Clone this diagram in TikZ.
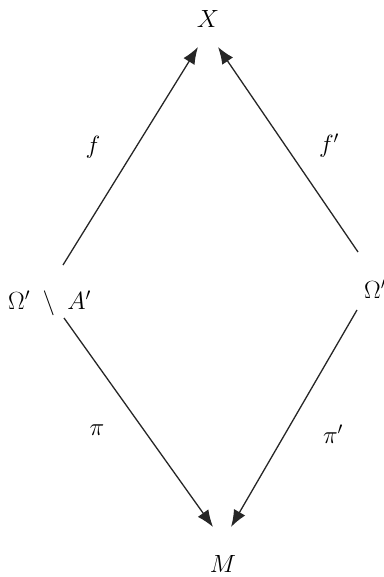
\documentclass[tikz,border=0pt]{standalone}
\usepackage{amssymb}
\usetikzlibrary{arrows.meta}
\begin{document}
\begin{tikzpicture}[x=1pt,y=-1pt,
  lbl/.style={font=\fontsize{24}{28}\selectfont, inner sep=0pt},
  arr/.style={line width=1.3pt, draw=black!85, -{Latex[length=17pt,width=13pt]}}]
\useasboundingbox (0,0) rectangle (383,577);
\node[lbl] (X) at (208,19) {$X$};
\node[lbl] (M) at (223,564) {$M$};
\node[lbl, anchor=west] (L) at (8,303) {$\Omega'\;\setminus\;A'$};
\node[lbl, anchor=west] (R) at (364,289) {$\Omega'$};
\node[lbl] (f) at (93,147) {$f$};
\node[lbl] (fp) at (329,146) {$f'$};
\node[lbl] (p) at (97,430) {$\pi$};
\node[lbl] (pp) at (333,434) {$\pi'$};
\coordinate (Lt) at (63,265);
\coordinate (Lb) at (64,318);
\coordinate (Rt) at (358,252);
\coordinate (Rb) at (357,310);
\coordinate (Xl) at (198,47);
\coordinate (Xr) at (218,47);
\coordinate (Ml) at (213,527);
\coordinate (Mr) at (231,527);
\draw[arr] (Lt) -- (Xl);
\draw[arr] (Rt) -- (Xr);
\draw[arr] (Lb) -- (Ml);
\draw[arr] (Rb) -- (Mr);
\end{tikzpicture}
\end{document}
